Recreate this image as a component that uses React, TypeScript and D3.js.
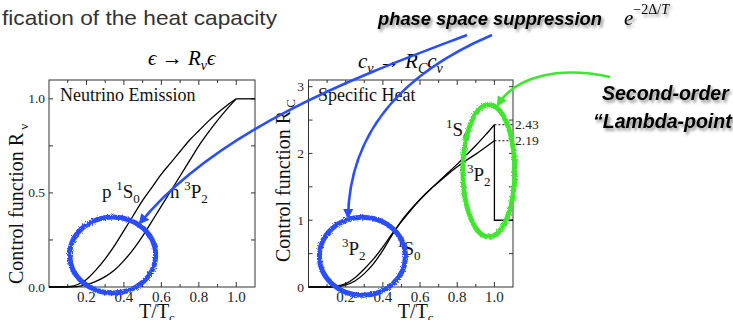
import * as React from 'react'
import * as d3 from 'd3'

// reduced temperature grid, T/Tc
const T_GRID = [0, 0.05, 0.1, 0.15, 0.2, 0.25, 0.3, 0.35, 0.4, 0.45, 0.5, 0.55, 0.6, 0.65, 0.7, 0.75, 0.8, 0.85, 0.9, 0.95, 1.0]

// neutrino emission control functions
const RNU_P1S0 = [0, 0, 0.002, 0.012, 0.04, 0.09, 0.15, 0.22, 0.3, 0.38, 0.46, 0.53, 0.6, 0.66, 0.72, 0.78, 0.83, 0.88, 0.925, 0.965, 1.0]
const RNU_N3P2 = [0, 0, 0, 0.002, 0.012, 0.03, 0.055, 0.09, 0.14, 0.2, 0.27, 0.35, 0.43, 0.51, 0.59, 0.67, 0.75, 0.82, 0.885, 0.945, 1.0]

// specific heat control functions
const RC_3P2 = [0, 0, 0.002, 0.012, 0.05, 0.14, 0.27, 0.42, 0.6, 0.8, 0.98, 1.15, 1.31, 1.45, 1.57, 1.69, 1.8, 1.9, 1.99, 2.09, 2.19]
const RC_1S0 = [0, 0, 0, 0.004, 0.03, 0.09, 0.2, 0.35, 0.55, 0.78, 0.99, 1.16, 1.31, 1.45, 1.58, 1.71, 1.84, 1.98, 2.12, 2.27, 2.43]

const JUMPS = [2.43, 2.19]
const X_TICKS = [0.2, 0.4, 0.6, 0.8, 1.0]
const YL_TICKS = [0, 0.5, 1.0]
const YR_TICKS = [0, 1, 2, 3]

const SERIF = '"Liberation Serif", "DejaVu Serif", serif'
const SANS = '"Liberation Sans", Arial, sans-serif'
const BLUE = '#2a4dff'
const GREEN = '#3fe52f'

type Scale = d3.ScaleLinear<number, number>

function Frame({ x, y, xMinor, yMinor }: { x: Scale; y: Scale; xMinor: number[]; yMinor: number[] }) {
  const [x0, x1] = x.range()
  const [y0, y1] = y.range()
  const ticks: JSX.Element[] = []
  xMinor.forEach((v, i) => {
    const px = x(v)
    const len = Math.abs(v * 5 - Math.round(v * 5)) < 1e-6 ? 5 : 3
    ticks.push(<line key={'xb' + i} x1={px} x2={px} y1={y0} y2={y0 - len} />)
    ticks.push(<line key={'xt' + i} x1={px} x2={px} y1={y1} y2={y1 + len} />)
  })
  yMinor.forEach((v, i) => {
    const py = y(v)
    ticks.push(<line key={'yl' + i} x1={x0} x2={x0 + 4} y1={py} y2={py} />)
    ticks.push(<line key={'yr' + i} x1={x1} x2={x1 - 4} y1={py} y2={py} />)
  })
  return (
    <g stroke="#333" strokeWidth={1} fill="none">
      <rect x={x0} y={y1} width={x1 - x0} height={y0 - y1} />
      {ticks}
    </g>
  )
}

export default function App() {
  const xL = d3.scaleLinear().domain([0, 1.1]).range([49, 255])
  const yL = d3.scaleLinear().domain([0, 1.1]).range([287, 80])
  const xR = d3.scaleLinear().domain([0, 1.1]).range([308.5, 513])
  const yR = d3.scaleLinear().domain([0, 3.1]).range([287, 80])

  const lineL = d3.line<number>().x((_, i) => xL(T_GRID[i])).y(d => yL(d)).curve(d3.curveMonotoneX)
  const lineR = d3.line<number>().x((_, i) => xR(T_GRID[i])).y(d => yR(d)).curve(d3.curveMonotoneX)

  const xMinor = d3.range(1, 11).map(d => d / 10)
  const fmt = d3.format('.1f')

  return (
    <svg width={733} height={320} style={{ position: 'fixed', left: 0, top: 0, background: '#fff' }}>
      <defs>
        <filter id="shadow" x="-10%" y="-40%" width="130%" height="190%">
          <feDropShadow dx="2" dy="2.5" stdDeviation="1.6" floodColor="#000" floodOpacity="0.45" />
        </filter>
        <filter id="rough" x="-20%" y="-20%" width="140%" height="140%">
          <feTurbulence type="fractalNoise" baseFrequency="0.8" numOctaves="2" seed="4" result="n" />
          <feDisplacementMap in="SourceGraphic" in2="n" scale="3.5" />
        </filter>
        <marker id="headBlue" viewBox="0 0 10 10" refX="8" refY="5" markerWidth="4" markerHeight="4" orient="auto">
          <path d="M0,0 L10,5 L0,10 z" fill={BLUE} />
        </marker>
        <marker id="headGreen" viewBox="0 0 10 10" refX="8" refY="5" markerWidth="4" markerHeight="4" orient="auto">
          <path d="M0,0 L10,5 L0,10 z" fill={GREEN} />
        </marker>
      </defs>

      {/* slide heading (cut off on the left) */}
      <text x={2} y={25} fontFamily={SANS} fontSize={21} fill="#333" textLength={275} lengthAdjust="spacingAndGlyphs">
        fication of the heat capacity
      </text>

      <g fontFamily={SANS} fontWeight="bold" fontStyle="italic" fill="#000" filter="url(#shadow)">
        <text x={378} y={25} fontSize={18} textLength={224} lengthAdjust="spacingAndGlyphs">phase space suppression</text>
        <text x={602} y={100} fontSize={19.5}>Second-order</text>
        <text x={593} y={128} fontSize={19.5}>“Lambda-point”</text>
      </g>
      <text x={624} y={25} fontFamily={SERIF} fontStyle="italic" fontSize={21} filter="url(#shadow)">
        e<tspan dy={-11} fontSize={14} fontStyle="normal">−2Δ/</tspan><tspan fontSize={14}>T</tspan>
      </text>

      {/* formulas */}
      <text x={148} y={65} fontFamily={SERIF} fontStyle="italic" fontSize={21}>
        ϵ <tspan fontStyle="normal">→</tspan> R<tspan dy={5} fontSize={14}>ν</tspan><tspan dy={-5}>ϵ</tspan>
      </text>
      <text x={358} y={68} fontFamily={SERIF} fontStyle="italic" fontSize={21}>
        c<tspan dy={5} fontSize={14}>ν</tspan><tspan dy={-5} fontStyle="normal"> → </tspan>R<tspan dy={5} fontSize={14}>C</tspan><tspan dy={-5}>c</tspan><tspan dy={5} fontSize={14}>ν</tspan>
      </text>

      {/* left panel: neutrino emission */}
      <Frame x={xL} y={yL} xMinor={xMinor} yMinor={[0.25, 0.5, 0.75, 1.0]} />
      <g fill="none" stroke="#000" strokeWidth={1.3}>
        <path d={lineL(RNU_P1S0) ?? ''} />
        <path d={lineL(RNU_N3P2) ?? ''} />
        <line x1={xL(1)} x2={xL(1.1)} y1={yL(1)} y2={yL(1)} />
      </g>
      <g fontFamily={SERIF} fontSize={15} fill="#222" textAnchor="middle">
        {X_TICKS.map(t => <text key={'xl' + t} x={xL(t)} y={302}>{fmt(t)}</text>)}
        {X_TICKS.map(t => <text key={'xr' + t} x={xR(t)} y={302}>{fmt(t)}</text>)}
      </g>
      <g fontFamily={SERIF} fontSize={13.5} fill="#222" textAnchor="end">
        {YL_TICKS.map(t => <text key={'yl' + t} x={45} y={yL(t) + 4.5}>{fmt(t)}</text>)}
        {YR_TICKS.map(t => <text key={'yr' + t} x={304} y={yR(t) + 4.5}>{t}</text>)}
      </g>
      <g fontFamily={SERIF} fontSize={18} fill="#111">
        <text x={60} y={101}>Neutrino Emission</text>
        <text x={318} y={101}>Specific Heat</text>
      </g>
      <g fontFamily={SERIF} fontSize={19} fill="#111">
        <text x={102} y={198}>p <tspan dy={-8} fontSize={13}>1</tspan><tspan dy={8}>S</tspan><tspan dy={5} fontSize={13}>0</tspan></text>
        <text x={170} y={198}>n <tspan dy={-8} fontSize={13}>3</tspan><tspan dy={8}>P</tspan><tspan dy={5} fontSize={13}>2</tspan></text>
        <text x={446} y={136}><tspan dy={-8} fontSize={13}>1</tspan><tspan dy={8}>S</tspan><tspan dy={5} fontSize={13}>0</tspan></text>
        <text x={467} y={181}><tspan dy={-8} fontSize={13}>3</tspan><tspan dy={8}>P</tspan><tspan dy={5} fontSize={13}>2</tspan></text>
        <text x={342} y={255}><tspan dy={-8} fontSize={13}>3</tspan><tspan dy={8}>P</tspan><tspan dy={5} fontSize={13}>2</tspan></text>
        <text x={397} y={255}><tspan dy={-8} fontSize={13}>1</tspan><tspan dy={8}>S</tspan><tspan dy={5} fontSize={13}>0</tspan></text>
      </g>
      <g fontFamily={SERIF} fontSize={20} fill="#111">
        <text transform="translate(23,284) rotate(-90)">Control function R<tspan dy={5} fontSize={13}> ν</tspan></text>
        <text transform="translate(290,262) rotate(-90)">Control function R<tspan dy={5} fontSize={13}> C</tspan></text>
        <text x={xL(0.55) + 5} y={318} textAnchor="middle">T/T<tspan dy={4} fontSize={13}>c</tspan></text>
        <text x={xR(0.55) + 5} y={318} textAnchor="middle">T/T<tspan dy={4} fontSize={13}>c</tspan></text>
      </g>

      {/* right panel: specific heat */}
      <Frame x={xR} y={yR} xMinor={xMinor} yMinor={d3.range(1, 7).map(d => d / 2)} />
      <g fill="none" stroke="#000" strokeWidth={1.3}>
        <path d={lineR(RC_3P2) ?? ''} />
        <path d={lineR(RC_1S0) ?? ''} />
        <polyline points={`${xR(1)},${yR(JUMPS[0])} ${xR(1)},${yR(1)} ${xR(1.1)},${yR(1)}`} />
      </g>
      <g stroke="#000" strokeWidth={1} strokeDasharray="2,2">
        {JUMPS.map(j => <line key={j} x1={xR(1)} x2={xR(1.1)} y1={yR(j)} y2={yR(j)} />)}
      </g>
      <g fontFamily={SERIF} fontSize={13.5} fill="#222">
        {JUMPS.map(j => <text key={j} x={515} y={yR(j) + 4.5}>{j.toFixed(2)}</text>)}
      </g>

      {/* annotations */}
      <g fill="none" filter="url(#rough)">
        <ellipse cx={xL(0.34)} cy={yL(0.17)} rx={43} ry={38} stroke={BLUE} strokeWidth={5} />
        <ellipse cx={xR(0.29)} cy={yR(0.46)} rx={43} ry={39} stroke={BLUE} strokeWidth={5} />
        <ellipse cx={xR(0.97)} cy={yR(1.74)} rx={26} ry={66} stroke={GREEN} strokeWidth={5} />
      </g>
      <g fill="none" strokeWidth={2.6}>
        <path d="M467,35 C370,72 220,125 140,223" stroke={BLUE} markerEnd="url(#headBlue)" />
        <path d="M492,35 C410,70 350,125 348,217" stroke={BLUE} markerEnd="url(#headBlue)" />
        <path d="M610,77 C560,66 515,76 498,105" stroke={GREEN} markerEnd="url(#headGreen)" />
      </g>
    </svg>
  )
}
